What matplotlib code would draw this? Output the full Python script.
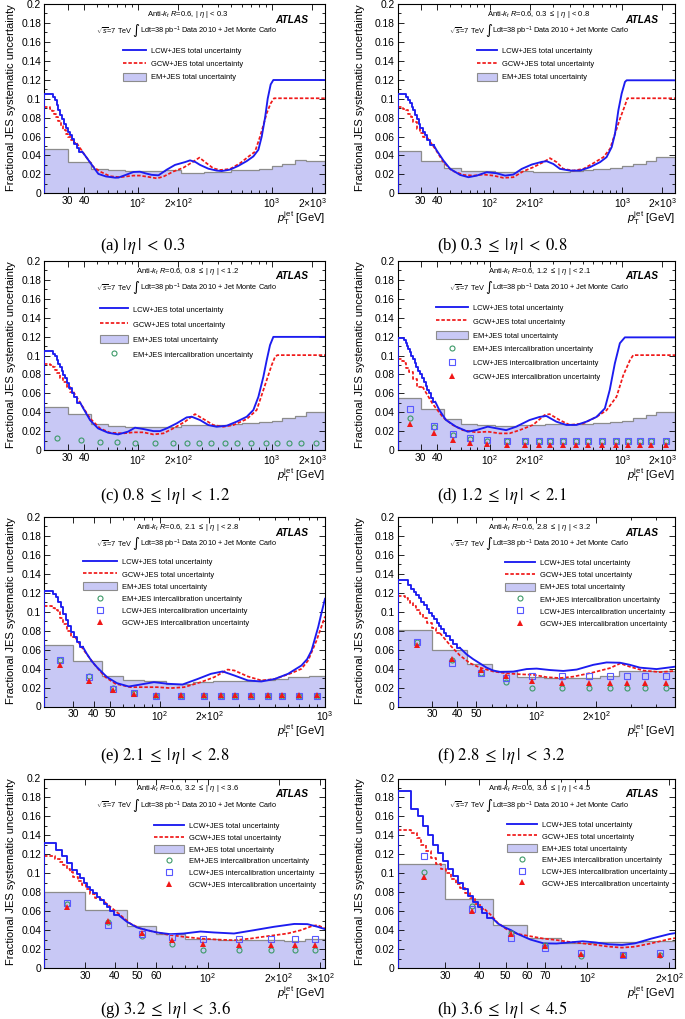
import math
import matplotlib
matplotlib.use("Agg")
import matplotlib.pyplot as plt
from matplotlib.lines import Line2D
from matplotlib.patches import Patch
from matplotlib.ticker import MultipleLocator, LogLocator, NullFormatter, FuncFormatter

plt.rcParams["font.family"] = ["Liberation Sans", "DejaVu Sans"]
plt.rcParams["mathtext.fontset"] = "custom"
plt.rcParams["mathtext.rm"] = "Liberation Sans"
plt.rcParams["mathtext.it"] = "Liberation Sans:italic"
plt.rcParams["mathtext.bf"] = "Liberation Sans:bold"

# ---------------------------------------------------------------- data
# curves are (pt, value); the first N entries after pt=20 are histogram bins (right edge, value)
EDGES_FULL = [20, 30, 45, 60, 80, 110, 160, 210, 260, 310, 400, 500, 600, 800, 1000, 1200, 1500, 1800, 2500]
IC_PT_FULL = [25, 37.5, 52.5, 70, 95, 135, 185, 235, 285, 355, 450, 550, 700, 900, 1100, 1350, 1650, 2150]

# (a) |eta| < 0.3
A_LCW = [(20, 0), (23.5, .1046), (24.2, .102), (24.9, .0986), (25.6, .0933), (26.3, .088), (27.1, .0827),
         (28.0, .078), (29.0, .073), (30.0, .069), (31.0, .065), (32.2, .0616), (33.5, .057), (35.0, .052),
         (36.5, .048), (38.5, .044), (40.5, .040), (45.5, .030), (50.9, .0205), (58, .0178), (67.8, .0165),
         (71.8, .0166), (80, .019), (92.9, .0225), (104, .0228), (115, .021), (127, .0195), (143, .019),
         (165, .025), (190, .030), (226, .033), (246, .0348), (270, .033), (292, .030), (337, .026),
         (389, .024), (424, .0235), (489, .025), (564, .029), (651, .034), (730, .039), (796, .046),
         (843, .060), (893, .080), (934, .100), (983, .115), (1029, .1197), (2500, .1197)]
A_LCW_STEPS = 15
A_GCW = [(20, .0908), (22.2, .0908), (23.0, .089), (23.8, .087), (24.6, .084), (25.6, .081), (26.7, .076),
         (27.9, .071), (29.1, .067), (30.4, .063), (31.8, .059), (33.4, .056), (35.1, .053), (40.5, .040),
         (46.7, .028), (52.4, .023), (62.2, .018), (73.8, .017), (92.9, .0187), (104, .0187), (124, .017),
         (139, .0158), (155.5, .0176), (184.6, .023), (219, .027), (260, .0335), (289, .0377), (327, .0317),
         (367, .0264), (412, .0246), (489, .0257), (580, .0317), (670, .0387), (751, .044), (819, .060),
         (867, .072), (918, .0845), (983, .095), (1041, .1004), (2500, .1004)]
A_GCW_STEPS = 12
A_EM = [.0465, .0334, .0255, .0245, .0235, .024, .0245, .0215, .0218, .022, .0225, .0245, .0248, .026,
        .0285, .031, .0352, .0342]

# (b) 0.3 <= |eta| < 0.8
B_LCW = [(20, 0), (23.3, .1046), (24.1, .1015), (24.9, .0982), (25.7, .095), (26.4, .0915), (27.2, .0876),
         (28.1, .083), (28.9, .078), (29.7, .0735), (31.0, .069), (32.2, .065), (33.3, .0611), (35.5, .056),
         (37.5, .051), (39.6, .0452), (44.5, .0346), (50.0, .0258), (59.5, .0194), (68.7, .017), (79.4, .0187),
         (94.5, .0223), (112, .0212), (130, .0187), (150, .0198), (173.8, .0258), (206.7, .0304), (246, .0332),
         (268, .0339), (301, .031), (338, .0258), (402, .024), (479, .024), (570, .0276), (678, .0329),
         (760, .0382), (831, .0488), (880, .0629), (933, .0876), (988, .1053), (1047, .1177), (1078, .1194),
         (2500, .1194)]
B_LCW_STEPS = 14
B_GCW = [(20, .0908), (22.2, .0908), (23.2, .0895), (24.2, .0876), (25.3, .084), (26.4, .0806), (27.9, .075),
         (29.7, .0682), (31.4, .064), (33.3, .0594), (38.5, .047), (44.5, .0329), (51.4, .024), (63, .0194),
         (75, .0187), (89.2, .0198), (106, .0187), (126.3, .0163), (150, .017), (178.8, .0233), (212.8, .0276),
         (253, .0329), (284, .0371), (319, .0329), (358, .0258), (426, .024), (508, .0258), (604, .0318),
         (719, .0382), (807, .047), (880, .0629), (960, .0788), (1047, .0929), (1091, .1004), (2500, .1004)]
B_GCW_STEPS = 9
B_EM = [.0445, .0346, .0265, .024, .0235, .023, .0232, .0225, .0228, .023, .024, .025, .026, .027,
        .0293, .031, .034, .038]

# (c) 0.8 <= |eta| < 1.2
C_LCW = [(20, 0), (23.5, .1046), (24.2, .102), (24.9, .0993), (25.6, .0955), (26.3, .0915), (27.1, .0877),
         (27.9, .0838), (28.7, .0797), (29.5, .0757), (30.8, .0704), (32.2, .0651), (33.6, .0607), (35.1, .0563),
         (37.2, .0502), (39.3, .044), (44.1, .0317), (50.6, .0229), (60.1, .0183), (71.4, .0165), (84.7, .0194),
         (95.5, .0236), (110.3, .0222), (131, .020), (146.8, .020), (164.7, .0229), (195.6, .0282), (232, .0345),
         (253, .0352), (292, .0317), (337, .0264), (389, .0246), (462, .0257), (548, .030), (651, .0352),
         (730, .0423), (796, .0563), (867, .0775), (918, .095), (972, .111), (1029, .1197), (2500, .1197)]
C_LCW_STEPS = 14
C_GCW = [(20, .0908), (22.2, .0908), (23.2, .0895), (24.2, .088), (25.2, .0845), (26.3, .081), (27.9, .0765),
         (29.5, .0722), (31.2, .067), (33.1, .0616), (38.2, .0475), (44.1, .0335), (52.4, .0229), (62.2, .0183),
         (78.2, .0176), (92.9, .0187), (110.3, .0187), (131, .0165), (155.5, .0176), (184.6, .0229),
         (225.6, .030), (268, .038), (318.7, .0317), (367, .0264), (436, .0246), (518, .0264), (651, .0327),
         (773, .0423), (867, .0634), (918, .074), (1000, .0898), (1060, .0986), (1103, .1004), (2500, .1004)]
C_GCW_STEPS = 9
C_EM = [.045, .0377, .028, .0257, .0246, .024, .0245, .0262, .0262, .0262, .0265, .0275, .0289, .030,
        .031, .0335, .036, .0405]
C_EM_IC = [.0123, .0106, .0088, .0081, .0072, .0074, .0074, .0074, .0074, .0074, .0074, .0074, .0074,
           .0074, .0074, .0074, .0074, .0074]

# (d) 1.2 <= |eta| < 2.1
D_LCW = [(20, 0), (22.5, .1182), (23.0, .116), (23.6, .113), (24.2, .110), (24.8, .107), (25.5, .104),
         (26.2, .100), (27.0, .096), (27.8, .092), (28.6, .088), (29.5, .084), (30.5, .080), (31.5, .076),
         (32.6, .072), (33.7, .068), (34.8, .064), (36.0, .060), (37.3, .055), (38.6, .051), (41.4, .0423),
         (46.5, .0317), (55.4, .0247), (67.9, .0194), (78.5, .021), (96.2, .0247), (111.3, .023), (132.6, .021),
         (157.8, .0247), (199, .0317), (237, .035), (266.4, .036), (317, .030), (377.6, .0265), (449.8, .0265),
         (535.5, .030), (637.6, .035), (737.4, .044), (803, .0635), (878, .0917), (958, .113), (1045, .1192),
         (2500, .1192)]
D_LCW_STEPS = 19
D_GCW = [(20, .0963), (21.8, .0963), (22.4, .094), (23.1, .0917), (24.5, .087), (26.0, .083), (28.3, .075),
         (30.9, .067), (33.7, .058), (36.8, .049), (43.9, .035), (52.2, .0265), (62.2, .021), (78.5, .0187),
         (96.2, .0194), (117.9, .0176), (140.4, .0176), (167.2, .021), (211, .0265), (258.7, .037),
         (282.3, .038), (336, .0317), (400, .0265), (505, .028), (637.6, .035), (759, .042), (904, .0564),
         (1016, .079), (1141, .095), (1209, .1004), (2500, .1004)]
D_GCW_STEPS = 7
D_EM = [.0554, .0434, .0325, .028, .0265, .0257, .026, .0265, .027, .027, .0275, .028, .029, .030,
        .031, .034, .037, .040]
D_EM_IC = [.0342, .0247, .0159, .0113, .0095, .0092, .0092, .0092, .0092, .0092, .0092, .0092, .0092,
           .0092, .0092, .0092, .0092, .0092]
D_LCW_IC = [.043, .0257, .0166, .013, .0106, .0099, .0099, .0099, .0099, .0099, .0099, .0099, .0099,
            .0099, .0099, .0099, .0099, .0099]
D_GCW_IC = [.027, .0176, .0106, .007, .006, .0053, .0053, .0053, .0053, .0053, .0053, .0053, .0053,
            .0053, .0053, .0053, .0053, .0053]

# (e) 2.1 <= |eta| < 2.8
E_LCW = [(20, 0), (22.8, .1215), (23.5, .119), (24.4, .1155), (25.3, .110), (26.2, .105), (27.1, .098),
         (28.1, .091), (29.2, .085), (30.4, .079), (31.6, .073), (32.9, .068), (34.3, .063), (36.3, .0556),
         (38.8, .048), (41.8, .0415), (48.1, .031), (55.3, .0246), (65.1, .0211), (76.7, .0232), (92.4, .0257),
         (111.4, .024), (137.5, .0232), (169.6, .029), (204.4, .0345), (240.6, .037), (283.4, .0327),
         (341.6, .0275), (411.7, .0264), (496.2, .029), (598, .0345), (720.8, .0433), (780, .050), (829, .059),
         (870, .072), (910, .084), (950, .098), (1000, .1137)]
E_LCW_STEPS = 12
E_GCW = [(20, .106), (22.3, .106), (23.3, .104), (24.2, .102), (25.0, .0996), (26.2, .093), (27.5, .0873),
         (29.2, .080), (30.9, .0732), (33.1, .065), (35.5, .0574), (40.8, .0433), (47.0, .031), (54.1, .024),
         (66.7, .0204), (80.4, .0204), (96.9, .0204), (116.8, .0194), (140.7, .0204), (177.7, .0257),
         (214.1, .031), (258.1, .039), (283.4, .038), (341.6, .0317), (411.7, .0275), (496.2, .029),
         (626.6, .0352), (720.8, .0398), (791, .0486), (889, .0697), (1000, .095)]
E_GCW_STEPS = 8
E_EDGES = [20, 30, 45, 60, 80, 110, 160, 210, 260, 310, 400, 500, 600, 800, 1000]
E_EM = [.065, .0475, .0327, .0275, .027, .024, .0262, .0265, .0265, .027, .0275, .029, .031, .0325]
E_IC_PT = [25, 37.5, 52.5, 70, 95, 135, 185, 235, 285, 355, 450, 550, 700, 900]
E_EM_IC = [.0496, .032, .0197, .0141, .011, .011, .011, .011, .011, .011, .011, .011, .011, .011]
E_LCW_IC = [.0496, .031, .0187, .0141, .0116, .0116, .0116, .0116, .0116, .0116, .0116, .0116, .0116, .0116]
E_GCW_IC = [.044, .0264, .0169, .0137, .0123, .0123, .0123, .0123, .0123, .0123, .0123, .0123, .0123, .0123]

# (f) 2.8 <= |eta| < 3.2
F_LCW = [(20, 0), (22.6, .133), (23.5, .128), (24.2, .1245), (24.9, .121), (25.6, .1175), (26.4, .114),
         (27.2, .1105), (28.0, .107), (28.8, .103), (29.7, .099), (30.6, .0955), (31.5, .092), (32.4, .0885),
         (33.3, .085), (34.3, .0815), (35.3, .078), (36.7, .074), (38.2, .070), (39.7, .066), (41.2, .062),
         (44.6, .055), (48.1, .050), (52.0, .0455), (56.2, .041), (60.7, .038), (65.6, .0365), (76.6, .0368),
         (89.4, .0395), (100.4, .040), (117, .0385), (137, .0375), (160, .039), (194, .044), (226, .0465),
         (264, .0462), (296, .044), (333, .041), (404, .0395), (500, .042)]
F_LCW_STEPS = 20
F_GCW = [(20, .117), (21.8, .117), (22.5, .115), (23.1, .1127), (24.0, .109), (24.9, .1056), (25.9, .102),
         (26.9, .098), (28.3, .093), (29.7, .088), (31.2, .083), (32.7, .0775), (36.7, .065), (41.2, .054),
         (46.3, .0458), (52.0, .041), (60.7, .037), (70.9, .035), (82.7, .034), (96.6, .0335), (112.7, .031),
         (131.6, .030), (153.6, .0315), (194, .036), (235, .0405), (265, .0455), (296, .042), (346, .038),
         (420, .0363), (500, .0375)]
F_GCW_STEPS = 11
F_EDGES = [20, 30, 45, 60, 80, 110, 160, 210, 260, 310, 400, 500]
F_EM = [.081, .060, .0445, .037, .031, .0298, .030, .0327, .0375, .0375, .0375]
F_IC_PT = [25, 37.5, 52.5, 70, 95, 135, 185, 235, 285, 355, 450]
F_EM_IC = [.068, .0486, .0355, .0257, .0194, .0194, .0194, .0194, .0194, .0194, .0194]
F_LCW_IC = [.0683, .0462, .0352, .0306, .0324, .0324, .0324, .0324, .0324, .0324, .0324]
F_GCW_IC = [.065, .0502, .0385, .0317, .0264, .0247, .0247, .0247, .0247, .0247, .0247]

# (g) 3.2 <= |eta| < 3.6
G_LCW = [(20, 0), (22.6, .1318), (23.8, .1247), (25.0, .1177), (26.3, .1106), (27.6, .1035), (28.5, .099),
         (29.5, .0947), (30.5, .090), (31.5, .0859), (32.5, .082), (33.6, .0788), (34.7, .075), (35.9, .0717),
         (37.1, .068), (38.3, .0647), (39.9, .060), (41.6, .0558), (45.1, .0488), (49.8, .0428), (55.0, .0399),
         (60.6, .0375), (69.1, .0357), (78.8, .0364), (92.9, .0385), (105.9, .0375), (129, .0364), (157, .0399),
         (191, .0435), (233, .0465), (265, .0463), (293, .0435), (315, .041)]
G_LCW_STEPS = 17
G_GCW = [(20, .1184), (22.3, .1184), (23.4, .1152), (24.2, .112), (25.0, .1088), (25.8, .105), (26.7, .101),
         (27.8, .0965), (29.0, .0919), (30.2, .0875), (31.5, .0834), (33.0, .0785), (34.7, .0735), (38.3, .0647),
         (42.3, .0558), (46.6, .047), (51.4, .0417), (58.7, .0382), (66.9, .0353), (78.8, .0329), (92.9, .0311),
         (109.4, .030), (129, .0293), (152, .0311), (179, .0336), (218, .0364), (248.6, .0399), (279, .0445),
         (293, .0452), (315, .0417)]
G_GCW_STEPS = 12
G_EDGES = [20, 30, 45, 60, 80, 110, 160, 210, 260, 320]
G_EM = [.0806, .0608, .0442, .0355, .0311, .030, .0293, .0286, .0304]
G_IC_PT = [25, 37.5, 52.5, 70, 95, 135, 185, 235, 285]
G_EM_IC = [.0675, .0488, .034, .0251, .0194, .0194, .0194, .0194, .0194]
G_LCW_IC = [.0682, .0452, .0364, .0329, .0311, .0311, .0311, .0311, .0311]
G_GCW_IC = [.0647, .0498, .0371, .030, .0258, .0247, .0247, .0247, .0247]

# (h) 3.6 <= |eta| < 4.5
H_LCW = [(20, 0), (22.5, .1865), (23.7, .168), (24.8, .160), (25.9, .150), (27.1, .140), (28.2, .130),
         (29.4, .121), (30.7, .113), (32.0, .105), (33.3, .097), (34.8, .090), (36.2, .083), (37.8, .076),
         (39.4, .070), (41.0, .064), (42.8, .058), (44.6, .053), (46.8, .047), (49.5, .043), (52.3, .040),
         (55.3, .036), (61.7, .030), (69, .026), (77, .0258), (86, .027), (96, .0282), (107, .027), (120, .025),
         (134, .0243), (149.5, .026), (171.7, .031), (200, .0358), (210, .0368)]
H_LCW_STEPS = 17
H_GCW = [(20, .146), (22.5, .146), (23.5, .143), (24.5, .137), (25.5, .130), (26.6, .123), (27.7, .116),
         (28.9, .110), (30.1, .105), (31.4, .100), (32.7, .094), (34.1, .089), (35.5, .084), (37.0, .079),
         (38.6, .074), (40.2, .068), (41.9, .062), (44.3, .0555), (46.8, .0475), (50.9, .040), (55.3, .036),
         (61.7, .0335), (69, .031), (77, .0295), (86, .0275), (96, .026), (107, .0245), (120, .0225),
         (134, .0215), (149.5, .0225), (171.7, .026), (200, .0305), (210, .0315)]
H_GCW_STEPS = 16
H_EDGES = [20, 30, 45, 60, 80, 110, 160, 210]
H_EM = [.110, .0728, .0459, .0313, .0266, .0277, .0285]
H_IC_PT = [25, 37.5, 52.5, 70, 95, 135, 185]
H_EM_IC = [.1016, .065, .0366, .0242, .0128, .0135, .0135]
H_LCW_IC = [.1183, .0622, .0313, .0206, .016, .0142, .016]
H_GCW_IC = [.0959, .0604, .0359, .0231, .0153, .0135, .0135]

# eta ranges: header (sans) and caption (serif) forms
HEAD_ETA = ["| $\\eta$ | < 0.3", "0.3 $\\leq$ | $\\eta$ | < 0.8", "0.8 $\\leq$ | $\\eta$ | < 1.2",
            "1.2 $\\leq$ | $\\eta$ | < 2.1", "2.1 $\\leq$ | $\\eta$ | < 2.8", "2.8 $\\leq$ | $\\eta$ | < 3.2",
            "3.2 $\\leq$ | $\\eta$ | < 3.6", "3.6 $\\leq$ | $\\eta$ | < 4.5"]
CAP_ETA = [r"$|\,\eta\,|\;<\;0.3$", r"$0.3\;\leq\;|\,\eta\,|\;<\;0.8$", r"$0.8\;\leq\;|\,\eta\,|\;<\;1.2$",
           r"$1.2\;\leq\;|\,\eta\,|\;<\;2.1$", r"$2.1\;\leq\;|\,\eta\,|\;<\;2.8$", r"$2.8\;\leq\;|\,\eta\,|\;<\;3.2$",
           r"$3.2\;\leq\;|\,\eta\,|\;<\;3.6$", r"$3.6\;\leq\;|\,\eta\,|\;<\;4.5$"]

LABELS = ["LCW+JES total uncertainty", "GCW+JES total uncertainty", "EM+JES total uncertainty",
          "EM+JES intercalibration uncertainty", "LCW+JES intercalibration uncertainty",
          "GCW+JES intercalibration uncertainty"]

# ---------------------------------------------------------------- style
W, H = 685, 1019
BLUE = "#1c1cf0"
RED = "#f01818"
FILL = "#c8c8f5"
EDGE = "#8c8c8c"
GREEN = "#3d9a68"
SQBLUE = "#5858ff"

LEFT_COL = (44, 325)
RIGHT_COL = (397.5, 675)
ROWS = [(4, 193.3), (261, 450), (517, 706.5), (778.5, 968)]
CAP_X = [100, 437]
CAP_BASE = [249.5, 500.3, 760, 1013.5]

panels = [
    dict(lcw=A_LCW, lcw_n=A_LCW_STEPS, gcw=A_GCW, gcw_n=A_GCW_STEPS, edges=EDGES_FULL, em=A_EM,
         xlim=(20, 2500), xt=[30, 40, 100, 200, 1000, 2000], leg=(0.281, 0.774, 3.1, 0.56)),
    dict(lcw=B_LCW, lcw_n=B_LCW_STEPS, gcw=B_GCW, gcw_n=B_GCW_STEPS, edges=EDGES_FULL, em=B_EM,
         xlim=(20, 2500), xt=[30, 40, 100, 200, 1000, 2000], leg=(0.287, 0.774, 2.7, 0.56)),
    dict(lcw=C_LCW, lcw_n=C_LCW_STEPS, gcw=C_GCW, gcw_n=C_GCW_STEPS, edges=EDGES_FULL, em=C_EM,
         ic=IC_PT_FULL, em_ic=C_EM_IC,
         xlim=(20, 2500), xt=[30, 40, 100, 200, 1000, 2000], leg=(0.199, 0.768, 3.75, 0.85)),
    dict(lcw=D_LCW, lcw_n=D_LCW_STEPS, gcw=D_GCW, gcw_n=D_GCW_STEPS, edges=EDGES_FULL, em=D_EM,
         ic=IC_PT_FULL, em_ic=D_EM_IC, lcw_ic=D_LCW_IC, gcw_ic=D_GCW_IC,
         xlim=(20, 2500), xt=[30, 40, 100, 200, 1000, 2000], leg=(0.14, 0.776, 4.2, 0.68)),
    dict(lcw=E_LCW, lcw_n=E_LCW_STEPS, gcw=E_GCW, gcw_n=E_GCW_STEPS, edges=E_EDGES, em=E_EM,
         ic=E_IC_PT, em_ic=E_EM_IC, lcw_ic=E_LCW_IC, gcw_ic=E_GCW_IC,
         xlim=(20, 1000), xt=[30, 40, 50, 100, 200, 1000], leg=(0.14, 0.785, 4.45, 0.47)),
    dict(lcw=F_LCW, lcw_n=F_LCW_STEPS, gcw=F_GCW, gcw_n=F_GCW_STEPS, edges=F_EDGES, em=F_EM,
         ic=F_IC_PT, em_ic=F_EM_IC, lcw_ic=F_LCW_IC, gcw_ic=F_GCW_IC,
         xlim=(20, 500), xt=[30, 40, 50, 100, 200], leg=(0.386, 0.782, 4.0, 0.47)),
    dict(lcw=G_LCW, lcw_n=G_LCW_STEPS, gcw=G_GCW, gcw_n=G_GCW_STEPS, edges=G_EDGES, em=G_EM,
         ic=G_IC_PT, em_ic=G_EM_IC, lcw_ic=G_LCW_IC, gcw_ic=G_GCW_IC,
         xlim=(20, 315), xt=[30, 40, 50, 60, 100, 200, 300], leg=(0.39, 0.773, 4.0, 0.41)),
    dict(lcw=H_LCW, lcw_n=H_LCW_STEPS, gcw=H_GCW, gcw_n=H_GCW_STEPS, edges=H_EDGES, em=H_EM,
         ic=H_IC_PT, em_ic=H_EM_IC, lcw_ic=H_LCW_IC, gcw_ic=H_GCW_IC,
         xlim=(20, 210), xt=[30, 40, 50, 60, 70, 100, 200], leg=(0.395, 0.779, 4.0, 0.41)),
]


def draw_curve(ax, pts, nstep, **style):
    x = [p[0] for p in pts]
    y = [p[1] for p in pts]
    # low-pt part is a fine-binned histogram, the rest is smooth
    ax.plot(x[:nstep + 1], y[:nstep + 1], drawstyle="steps-pre", **style)
    ax.plot(x[nstep:], y[nstep:], **style)


def tick_text(v):
    e = int(math.floor(math.log10(v) + 1e-9))
    m = int(round(v / 10 ** e))
    if e < 2:
        return str(int(v))
    if m == 1:
        return r"$10^{%d}$" % e
    return r"$%d{\times}10^{%d}$" % (m, e)


fig = plt.figure(figsize=(W / 100, H / 100), dpi=100)

for i, p in enumerate(panels):
    col, row = i % 2, i // 2
    x0, x1 = LEFT_COL if col == 0 else RIGHT_COL
    y0, y1 = ROWS[row]
    ax = fig.add_axes([x0 / W, 1 - y1 / H, (x1 - x0) / W, (y1 - y0) / H])

    ax.stairs(p["em"], p["edges"], fill=True, color=FILL, lw=0, zorder=1)
    ax.stairs(p["em"], p["edges"], color=EDGE, lw=0.9, zorder=2)

    draw_curve(ax, p["gcw"], p["gcw_n"], color=RED, lw=1.25, dashes=(2.0, 1.1), zorder=4)
    draw_curve(ax, p["lcw"], p["lcw_n"], color=BLUE, lw=1.35, zorder=5)

    handles = [Line2D([], [], color=BLUE, lw=1.35),
               Line2D([], [], color=RED, lw=1.25, dashes=(2.0, 1.1)),
               Patch(facecolor=FILL, edgecolor=EDGE, lw=0.8)]
    if "em_ic" in p:
        ax.plot(p["ic"], p["em_ic"], ls="none", marker="o", mfc="none", mec=GREEN, ms=3.6, mew=0.8, zorder=6)
        handles.append(Line2D([], [], ls="none", marker="o", mfc="none", mec=GREEN, ms=3.6, mew=0.8))
    if "lcw_ic" in p:
        ax.plot(p["ic"], p["lcw_ic"], ls="none", marker="s", mfc="none", mec=SQBLUE, ms=3.8, mew=0.8, zorder=6)
        ax.plot(p["ic"], p["gcw_ic"], ls="none", marker="^", color=RED, ms=3.8, mew=0, zorder=7)
        handles.append(Line2D([], [], ls="none", marker="s", mfc="none", mec=SQBLUE, ms=3.8, mew=0.8))
        handles.append(Line2D([], [], ls="none", marker="^", color=RED, ms=3.8, mew=0))

    lx, ly, hl, ls = p["leg"]
    ax.legend(handles, LABELS[:len(handles)], loc="upper left", bbox_to_anchor=(lx, ly), frameon=False,
              fontsize=5.4, handlelength=hl, handleheight=1.33, labelspacing=ls, handletextpad=0.67,
              borderpad=0, borderaxespad=0, numpoints=1)

    ax.set_xscale("log")
    ax.set_xlim(*p["xlim"])
    ax.set_ylim(0, 0.2)
    ax.set_xticks(p["xt"])
    ax.set_xticklabels([tick_text(v) for v in p["xt"]])
    ax.xaxis.set_minor_locator(LogLocator(base=10, subs=range(2, 10), numticks=30))
    ax.xaxis.set_minor_formatter(NullFormatter())
    ax.yaxis.set_major_locator(MultipleLocator(0.02))
    ax.yaxis.set_minor_locator(MultipleLocator(0.01))
    ax.yaxis.set_major_formatter(FuncFormatter(lambda v, _: "%g" % round(v, 3)))
    ax.tick_params(which="both", direction="in", top=True, right=True, width=0.6, labelsize=7.4, pad=2)
    ax.tick_params(which="major", length=4.5)
    ax.tick_params(which="minor", length=2.2)
    for s in ax.spines.values():
        s.set_linewidth(0.8)

    ax.set_ylabel("Fractional JES systematic uncertainty", fontsize=8, loc="top")
    ax.yaxis.set_label_coords(-0.098 if col == 0 else -0.117, 1.0)
    ax.text(1.0, -0.152, r"$p_{\rm T}^{\rm jet}$ [GeV]", transform=ax.transAxes, ha="right", va="baseline",
            fontsize=8)

    # header texts
    ax.text(0.51, 0.945, "Anti-$k_{t}$ $R$=0.6, " + HEAD_ETA[i], transform=ax.transAxes, ha="center",
            va="center", fontsize=5.5)
    base_y = 0.843
    t1 = ax.text(0.185, base_y, r"$\sqrt{s}$=7 TeV ", transform=ax.transAxes, ha="left", va="baseline",
                 fontsize=5.3)
    t2 = ax.annotate("\u222b", xy=(1, base_y - 0.004), xycoords=(t1, "axes fraction"), ha="left",
                     va="baseline", fontsize=9.5, family="DejaVu Sans")
    ax.annotate("Ldt=38 pb$^{-1}$ Data 2010 + Jet Monte Carlo", xy=(1, base_y),
                xycoords=(t2, "axes fraction"), ha="left", va="baseline", fontsize=5.3)
    ax.text(0.88, 0.918, "ATLAS", transform=ax.transAxes, ha="center", va="center", fontsize=7.3,
            fontweight="bold", fontstyle="italic")

    fig.text(CAP_X[col] / W, 1 - CAP_BASE[row] / H, "(%s) " % "abcdefgh"[i] + CAP_ETA[i],
             family="Liberation Serif", math_fontfamily="stix", fontsize=12, ha="left", va="baseline")

fig.savefig("out.png", dpi=100)
